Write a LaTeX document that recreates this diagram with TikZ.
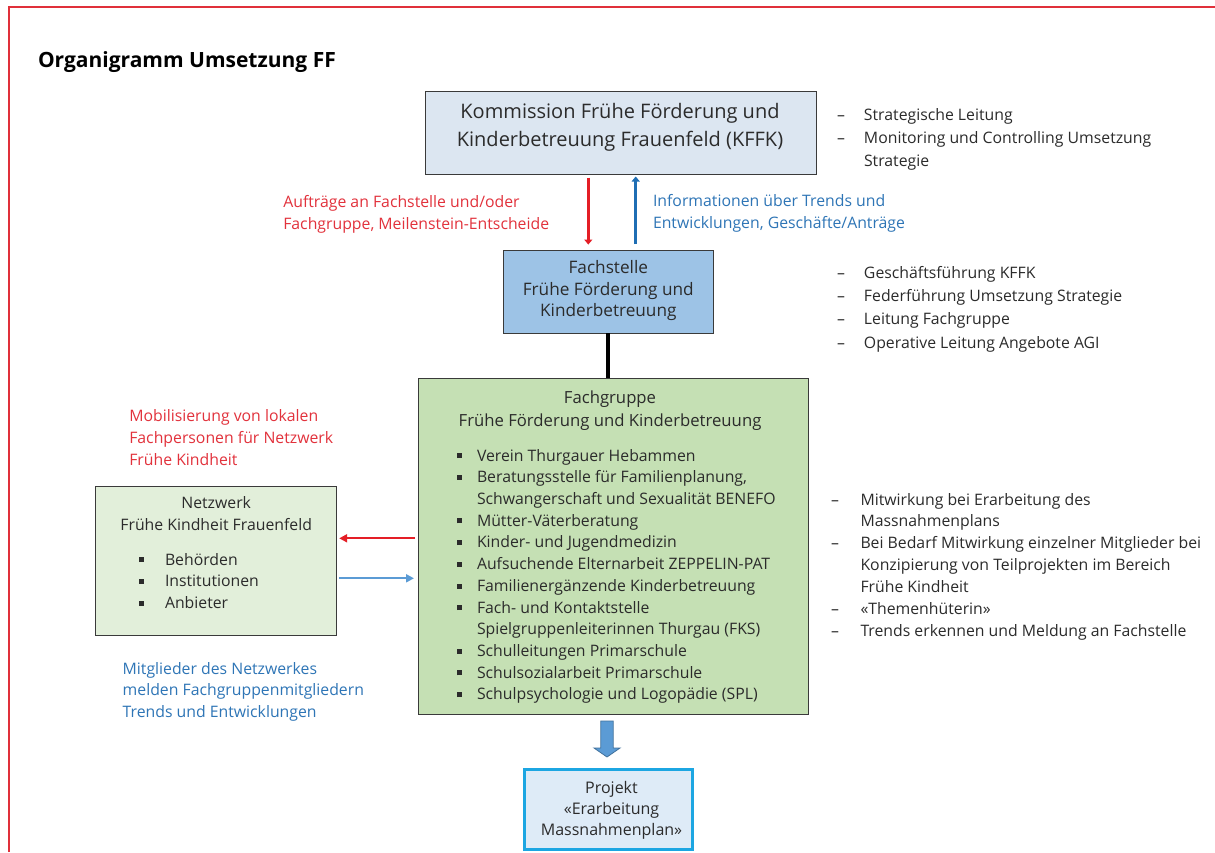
\documentclass[tikz,border=0pt]{standalone}
\usepackage{fontspec}
\setmainfont{Open Sans}
\usetikzlibrary{arrows.meta}
\definecolor{framered}{HTML}{E0303A}
\definecolor{boxline}{HTML}{3A3A3A}
\definecolor{textgray}{HTML}{2B2B2B}
\definecolor{kffkfill}{HTML}{DCE6F1}
\definecolor{fsfill}{HTML}{9DC3E6}
\definecolor{fgfill}{HTML}{C5E0B4}
\definecolor{nwfill}{HTML}{E2EFDA}
\definecolor{pjfill}{HTML}{DEEBF7}
\definecolor{pjline}{HTML}{1CA6E2}
\definecolor{redtext}{HTML}{E2323C}
\definecolor{bluetext}{HTML}{2E75B6}
\definecolor{redarr}{HTML}{E41E26}
\definecolor{bluearr}{HTML}{1F6EB4}
\definecolor{lbluearr}{HTML}{5B9BD5}
\definecolor{blockfill}{HTML}{5B9BD5}
\definecolor{blockline}{HTML}{41719C}
\newcommand\bsq{\raisebox{2.8pt}{\rule{5pt}{5pt}}}
\newcommand\bodyfont[1]{\fontsize{15.8}{#1}\selectfont}
\begin{document}
\begin{tikzpicture}[x=1pt,y=-1pt,
  box/.style={draw=boxline, line width=1pt, inner sep=0pt, outer sep=0pt},
  txt/.style={inner sep=0pt, outer sep=0pt, anchor=base west, text=textgray},
  ctxt/.style={inner sep=0pt, outer sep=0pt, anchor=base, text=textgray},
  redlbl/.style={txt, text=redtext},
  bluelbl/.style={txt, text=bluetext},
  thickred/.style={draw=redarr, line width=3.5pt, -{Triangle[length=5pt,width=8pt]}},
  thickblue/.style={draw=bluearr, line width=3.5pt, -{Triangle[length=5pt,width=8pt]}},
  thinred/.style={draw=redarr, line width=2pt, -{Triangle[length=8pt,width=8pt]}},
  thinblue/.style={draw=lbluearr, line width=2pt, -{Triangle[length=8pt,width=8pt]}},
  blockarrow/.style={fill=blockfill, draw=blockline, line width=0.8pt}
]
\useasboundingbox (0,0) rectangle (1215,852);
\fill[white] (0,0) rectangle (1215,852);
\draw[framered, line width=1.2pt] (9,852) -- (9,7) -- (1215,7);

% title
\node[txt, text=black, font=\fontsize{21}{25}\selectfont\bfseries] (title) at (38,67.5) {Organigramm Umsetzung FF};

% boxes
\node[box, fill=kffkfill, minimum width=391pt, minimum height=83pt] (kffk) at (620.5,133) {};
\node[box, fill=fsfill, minimum width=210pt, minimum height=83.3pt] (fs) at (608.3,291.7) {};
\node[box, fill=fgfill, minimum width=390pt, minimum height=336pt] (fg) at (613,546) {};
\node[box, fill=nwfill, minimum width=241pt, minimum height=149pt] (nw) at (216.2,560.5) {};
\node[box, draw=pjline, line width=3pt, fill=pjfill, minimum width=168pt, minimum height=80pt] (pj) at (608.3,809) {};

% box texts
\node[ctxt, font=\fontsize{20}{28.4}\selectfont] (kffkt) at (620,118.3)
  {\begin{tabular}[t]{@{}c@{}}Kommission Frühe Förderung und\\Kinderbetreuung Frauenfeld (KFFK)\end{tabular}};
\node[ctxt, font=\fontsize{17.2}{21.7}\selectfont] (fst) at (608.3,273.3)
  {\begin{tabular}[t]{@{}c@{}}Fachstelle\\Frühe Förderung und\\Kinderbetreuung\end{tabular}};
\node[ctxt, font=\fontsize{16.7}{23.4}\selectfont] (fgt) at (610,403.3)
  {\begin{tabular}[t]{@{}c@{}}Fachgruppe\\Frühe Förderung und Kinderbetreuung\end{tabular}};
\node[txt, font=\bodyfont{21.72}] (fgl) at (457,461)
  {\begin{tabular}[t]{@{}p{20pt}@{}l@{}}
  \bsq & Verein Thurgauer Hebammen\\
  \bsq & Beratungsstelle für Familienplanung,\\
       & Schwangerschaft und Sexualität BENEFO\\
  \bsq & Mütter-Väterberatung\\
  \bsq & Kinder- und Jugendmedizin\\
  \bsq & Aufsuchende Elternarbeit ZEPPELIN-PAT\\
  \bsq & Familienergänzende Kinderbetreuung\\
  \bsq & Fach- und Kontaktstelle\\
       & Spielgruppenleiterinnen Thurgau (FKS)\\
  \bsq & Schulleitungen Primarschule\\
  \bsq & Schulsozialarbeit Primarschule\\
  \bsq & Schulpsychologie und Logopädie (SPL)
  \end{tabular}};
\node[ctxt, font=\bodyfont{22.4}] (nwt) at (216.2,508.3)
  {\begin{tabular}[t]{@{}c@{}}Netzwerk\\Frühe Kindheit Frauenfeld\end{tabular}};
\node[txt, font=\bodyfont{21.7}] (nwl) at (139,565)
  {\begin{tabular}[t]{@{}p{26pt}@{}l@{}}
  \bsq & Behörden\\
  \bsq & Institutionen\\
  \bsq & Anbieter
  \end{tabular}};
\node[ctxt, font=\fontsize{16}{20.9}\selectfont] (pjt) at (611.5,793.3)
  {\begin{tabular}[t]{@{}c@{}}Projekt\\«Erarbeitung\\Massnahmenplan»\end{tabular}};

% connectors
\coordinate (xr) at (588.3,0);
\coordinate (xb) at (635.7,0);
\draw[thickred, shorten <=3pt, shorten >=5.5pt] (kffk.south -| xr) -- (fs.north -| xr);
\draw[thickblue, shorten <=6pt, shorten >=2pt] (fs.north -| xb) -- (kffk.south -| xb);
\draw[line width=4pt, black] (fs.south) -- (fs.south |- fg.north);
\coordinate (yr) at (0,538.3);
\coordinate (yb) at (0,578.3);
\draw[thinred, shorten <=3pt, shorten >=2.5pt] (fg.west |- yr) -- (nw.east |- yr);
\draw[thinblue, shorten <=2.5pt, shorten >=4pt] (nw.east |- yb) -- (fg.west |- yb);
\draw[blockarrow] (600.8,721) -- (613.2,721) -- (613.2,748) -- (620,748) -- (607,757) -- (594,748) -- (600.8,748) -- cycle;

% labels
\node[redlbl, font=\bodyfont{21.7}] (lblauf) at (283.3,207.3)
  {\begin{tabular}[t]{@{}l@{}}Aufträge an Fachstelle und/oder\\Fachgruppe, Meilenstein-Entscheide\end{tabular}};
\node[bluelbl, font=\bodyfont{21.7}] (lblinf) at (653,206.7)
  {\begin{tabular}[t]{@{}l@{}}Informationen über Trends und\\Entwicklungen, Geschäfte/Anträge\end{tabular}};
\node[redlbl, font=\bodyfont{22}] (lblmob) at (129.3,421.7)
  {\begin{tabular}[t]{@{}l@{}}Mobilisierung von lokalen\\Fachpersonen für Netzwerk\\Frühe Kindheit\end{tabular}};
\node[bluelbl, font=\bodyfont{21.5}] (lblmit) at (122.7,674.3)
  {\begin{tabular}[t]{@{}l@{}}Mitglieder des Netzwerkes\\melden Fachgruppenmitgliedern\\Trends und Entwicklungen\end{tabular}};

% right-side lists
\node[txt, font=\bodyfont{22.7}] (r1) at (837,120.7)
  {\begin{tabular}[t]{@{}p{27pt}@{}l@{}}
  – & Strategische Leitung\\
  – & Monitoring und Controlling Umsetzung\\
    & Strategie
  \end{tabular}};
\node[txt, font=\bodyfont{23.3}] (r2) at (837,278.3)
  {\begin{tabular}[t]{@{}p{27pt}@{}l@{}}
  – & Geschäftsführung KFFK\\
  – & Federführung Umsetzung Strategie\\
  – & Leitung Fachgruppe\\
  – & Operative Leitung Angebote AGI
  \end{tabular}};
\node[txt, font=\bodyfont{21.95}] (r3) at (831,505)
  {\begin{tabular}[t]{@{}p{29.5pt}@{}l@{}}
  – & Mitwirkung bei Erarbeitung des\\
    & Massnahmenplans\\
  – & Bei Bedarf Mitwirkung einzelner Mitglieder bei\\
    & Konzipierung von Teilprojekten im Bereich\\
    & Frühe Kindheit\\
  – & «Themenhüterin»\\
  – & Trends erkennen und Meldung an Fachstelle
  \end{tabular}};
\end{tikzpicture}
\end{document}
